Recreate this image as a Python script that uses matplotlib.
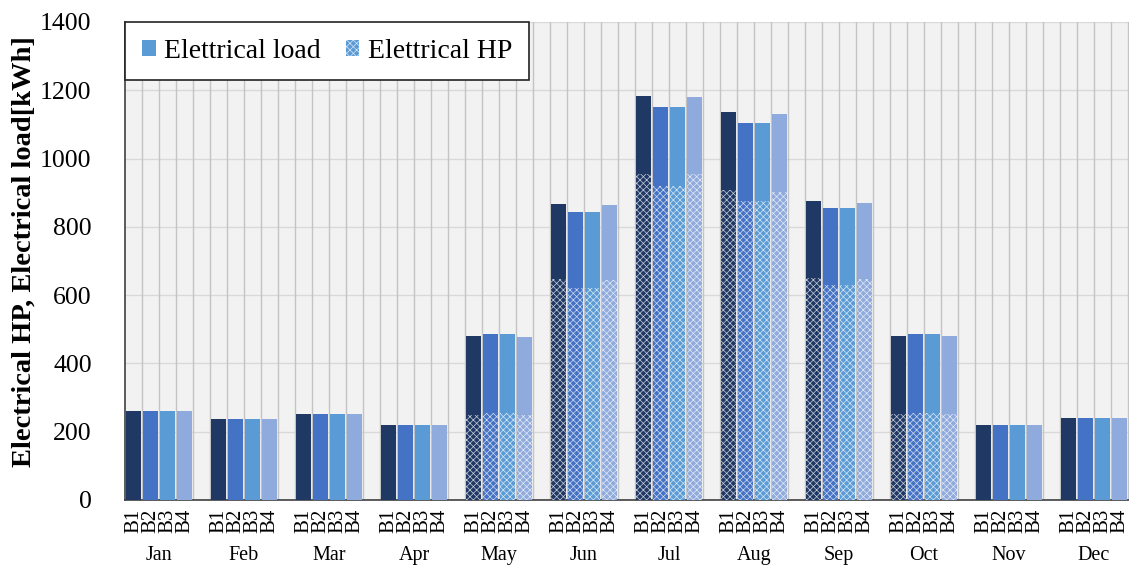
import matplotlib
matplotlib.use("Agg")
import matplotlib.pyplot as plt
from matplotlib.patches import Patch
import numpy as np

plt.rcParams['font.family'] = ['Liberation Serif', 'DejaVu Serif']
plt.rcParams['hatch.linewidth'] = 0.5

months = ["Jan", "Feb", "Mar", "Apr", "May", "Jun", "Jul", "Aug", "Sep", "Oct", "Nov", "Dec"]
buildings = ["B1", "B2", "B3", "B4"]

# Total (HP + load) per building per month [kWh]
total_B1 = [262, 238, 251, 219, 480, 867, 1183, 1137, 876, 480, 220, 240]
total_B2 = [262, 238, 251, 219, 486, 844, 1152, 1105, 855, 486, 220, 240]
total_B3 = [262, 238, 251, 219, 486, 844, 1152, 1105, 855, 486, 220, 240]
total_B4 = [262, 238, 251, 219, 478, 864, 1181, 1131, 870, 480, 220, 240]

# Electrical HP part per building per month [kWh]
hp_B1 = [0, 0, 0, 0, 250, 646, 954, 908, 650, 252, 0, 0]
hp_B2 = [0, 0, 0, 0, 255, 622, 920, 876, 630, 255, 0, 0]
hp_B3 = [0, 0, 0, 0, 255, 622, 920, 876, 630, 255, 0, 0]
hp_B4 = [0, 0, 0, 0, 250, 644, 954, 903, 647, 252, 0, 0]

totals = [total_B1, total_B2, total_B3, total_B4]
hps = [hp_B1, hp_B2, hp_B3, hp_B4]
colors = ["#1f3864", "#4472c4", "#5b9bd5", "#8faadc"]
hatch_col = (1, 1, 1, 0.75)

fig = plt.figure(figsize=(11.29, 5.65), dpi=100)
ax = fig.add_axes([125/1129, 1-500/565, 1004/1129, 478/565])
ax.set_facecolor("#f2f2f2")

slot = 5
bw = 0.86
for b in range(4):
    xs = np.arange(12) * slot + b + 0.5
    hp = np.array(hps[b])
    load = np.array(totals[b]) - hp
    ax.bar(xs, hp, width=bw, color=colors[b], edgecolor=hatch_col, linewidth=0,
           hatch="xxxxx", zorder=3)
    ax.bar(xs, load, bottom=hp, width=bw, color=colors[b], linewidth=0, zorder=3)

ax.set_ylim(0, 1400)
ax.set_yticks(np.arange(0, 1401, 200))
ax.set_xlim(0, 59.06)

# grid
for y in np.arange(200, 1401, 200):
    ax.axhline(y, color="#d9d9d9", lw=1.0, zorder=1)
for x in range(1, 60):
    ax.axvline(x, color="#c4c4c4", lw=1.0, zorder=1)

# x tick labels
xt = []
xl = []
for m in range(12):
    for b in range(4):
        xt.append(m * slot + b + 0.5)
        xl.append(buildings[b])
ax.set_xticks(xt)
ax.set_xticklabels(xl, rotation=90, fontsize=15)
ax.tick_params(axis="x", length=0, pad=6)
ax.tick_params(axis="y", length=0, pad=24, labelsize=18.5)

trans = ax.get_xaxis_transform()
for m, name in enumerate(months):
    ax.text(m * slot + 2.0, -0.116, name, transform=trans, ha="center", va="center",
            fontsize=14.5)

for s in ["top", "right"]:
    ax.spines[s].set_visible(False)
ax.spines["left"].set_color("#404040")
ax.spines["bottom"].set_color("#404040")
ax.spines["left"].set_linewidth(1.2)
ax.spines["bottom"].set_linewidth(1.2)

ax.set_ylabel("Electrical HP, Electrical load[kWh]", fontsize=20.5, fontweight="bold")
ax.yaxis.set_label_coords(-0.088, 0.52)

handles = [Patch(facecolor="#5b9bd5", edgecolor="#5b9bd5", linewidth=0, label="Elettrical load"),
           Patch(facecolor="#5b9bd5", edgecolor=hatch_col, linewidth=0, hatch="xxxxx", label="Elettrical HP")]
leg = ax.legend(handles=handles, loc="upper left", bbox_to_anchor=(0.0, 1.0), ncol=2,
                fontsize=20, frameon=True, fancybox=False, borderaxespad=0,
                handlelength=0.5, handleheight=0.5, handletextpad=0.3,
                columnspacing=0.9, borderpad=0.6)
leg.get_frame().set_edgecolor("#222222")
leg.get_frame().set_linewidth(1.2)
leg.get_frame().set_alpha(1)
leg.set_zorder(10)

fig.savefig("out.png", dpi=100)
